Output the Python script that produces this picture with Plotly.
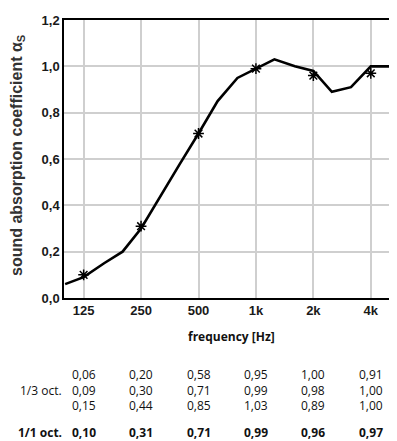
import math
import plotly.graph_objects as go

# 1/3-octave band centre frequencies (Hz) and measured coefficients
third_freqs = [100, 125, 160, 200, 250, 315, 400, 500, 630, 800, 1000, 1250,
               1600, 2000, 2500, 3150, 4000, 5000]
third_values = [0.06, 0.09, 0.15, 0.20, 0.30, 0.44, 0.58, 0.71, 0.85, 0.95, 0.99, 1.03,
                1.00, 0.98, 0.89, 0.91, 1.00, 1.00]

# octave bands
oct_freqs = [125, 250, 500, 1000, 2000, 4000]
oct_labels = ["125", "250", "500", "1k", "2k", "4k"]
oct_values = [0.10, 0.31, 0.71, 0.99, 0.96, 0.97]

y_ticks = [0.0, 0.2, 0.4, 0.6, 0.8, 1.0, 1.2]
y_tick_labels = ["0,0", "0,2", "0,4", "0,6", "0,8", "1,0", "1,2"]

def fmt(v):
    return f"{v:.2f}".replace(".", ",")

# page body has an 8px margin; figure sized so the page matches 397x441
W, H = 389, 433
L, T, R, B = 56, 12, 6, 143
ph = H - T - B  # plot height in px
pw = W - L - R

fig = go.Figure()
fig.add_trace(go.Scatter(x=third_freqs, y=third_values, mode="lines",
                         line=dict(color="black", width=2.6), showlegend=False))
fig.add_trace(go.Scatter(x=oct_freqs, y=oct_values, mode="markers",
                         marker=dict(symbol="asterisk-open", size=9, color="black",
                                     line=dict(color="black", width=1.5)),
                         showlegend=False))

tick_font = dict(family="Liberation Sans", size=13, color="#1a1a1a")
fig.update_layout(
    width=W, height=H,
    margin=dict(l=L, r=R, t=T, b=B),
    paper_bgcolor="white", plot_bgcolor="white",
    xaxis=dict(type="log", range=[1.994, 3.708], tickvals=oct_freqs,
               ticktext=[f"<b>{t}</b>" for t in oct_labels],
               showgrid=True, gridcolor="#cfcfcf", gridwidth=1.5,
               showline=True, linecolor="black", linewidth=1.5, mirror=True,
               ticks="", ticklen=0, tickfont=tick_font, zeroline=False, automargin=False),
    yaxis=dict(range=[0, 1.2], tickvals=y_ticks, ticktext=[f"<b>{t}</b>" for t in y_tick_labels],
               showgrid=True, gridcolor="#cfcfcf", gridwidth=1.5,
               showline=True, linecolor="black", linewidth=1.5, mirror=True,
               ticks="", ticklen=0, tickfont=tick_font, zeroline=False, automargin=False),
)

def py(ypx):
    # page pixel y -> paper coordinate
    return (ph + T + 8 - ypx) / ph

def px(xpx):
    return (xpx - 8 - L) / pw

fig.add_annotation(text="<b>sound absorption coefficient α<sub>S</sub></b>",
                   xref="paper", yref="paper", x=px(17), y=py(155), textangle=-90,
                   showarrow=False, xanchor="center", yanchor="middle",
                   font=dict(family="Liberation Sans", size=16, color="#333"))

table_font = dict(family="Open Sans", size=12, color="#111")

fig.add_annotation(text="<b>frequency [Hz]</b>", xref="paper", yref="paper",
                   x=px(231), y=py(336), showarrow=False, xanchor="center", yanchor="middle",
                   font=dict(family="Open Sans", size=12, color="#111"))

for i, f in enumerate(oct_freqs):
    col = "<br>".join(fmt(v) for v in third_values[3 * i:3 * i + 3])
    fig.add_annotation(text=col, xref="x", yref="paper",
                       x=math.log10(f), y=py(390), showarrow=False,
                       xanchor="center", yanchor="middle", font=table_font)
    fig.add_annotation(text="<b>" + fmt(oct_values[i]) + "</b>", xref="x", yref="paper",
                       x=math.log10(f), y=py(432), showarrow=False,
                       xanchor="center", yanchor="middle", font=table_font)

fig.add_annotation(text="1/3 oct.", xref="paper", yref="paper", x=px(64),
                   y=py(390), xanchor="right", yanchor="middle", showarrow=False, font=table_font)
fig.add_annotation(text="<b>1/1 oct.</b>", xref="paper", yref="paper", x=px(64),
                   y=py(432), xanchor="right", yanchor="middle", showarrow=False, font=table_font)

fig.write_html("out.html")
